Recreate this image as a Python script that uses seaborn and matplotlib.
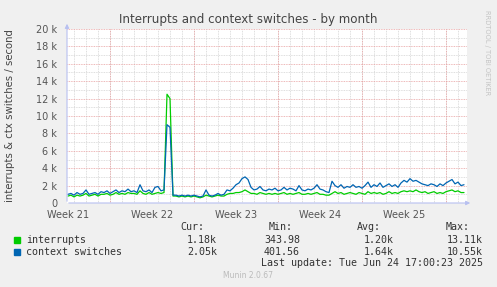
"""
Munin-style chart: interrupts and context switches - by month
"""

import numpy as np
import pandas as pd
import matplotlib
matplotlib.use('Agg')
import matplotlib.pyplot as plt
from matplotlib.patches import Rectangle
import seaborn as sns

# Dữ liệu (đơn vị: nghìn / giây), mỗi điểm cách nhau 6 giờ
start_time = '2025-05-22 12:00'
step = '6h'

interrupts = [
    0.8, 0.9, 0.7, 0.9, 0.8, 0.9, 1.1, 0.8, 0.9, 1.0, 0.8, 1.0, 1.0, 1.1, 0.9, 1.0,
    1.2, 1.0, 1.1, 1.0, 1.2, 1.1, 1.1, 1.0, 1.4, 1.1, 1.0, 1.2, 1.0, 1.1, 1.2, 1.1,
    1.2, 12.5, 12.0, 0.8,
    0.8, 0.7, 0.8, 0.7, 0.8, 0.7, 0.8, 0.7, 0.6, 0.7, 0.9, 0.8, 0.7, 0.8, 0.9, 0.8, 0.8,
    1.0, 1.1, 1.1, 1.2, 1.2, 1.3, 1.5, 1.3, 1.1,
    1.1, 1.0, 1.2, 1.1, 1.0, 1.1, 1.0, 1.1, 1.0, 1.1, 1.2, 1.0, 1.1, 1.0, 1.1, 1.2,
    1.0, 1.0, 1.1, 1.0, 1.1, 1.2, 1.0, 1.0, 0.9, 0.9,
    1.1, 1.3, 1.1, 1.2, 1.0, 1.1, 1.2, 1.1, 1.0, 1.2, 1.1, 1.0, 1.3, 1.1, 1.2, 1.1,
    1.2, 1.0, 1.1, 1.3, 1.1, 1.2, 1.1, 1.3, 1.4, 1.3, 1.4, 1.3, 1.5, 1.3, 1.2, 1.3,
    1.1, 1.2, 1.3, 1.1, 1.2, 1.1, 1.3, 1.4, 1.5, 1.3, 1.4, 1.2, 1.2,
]

context_switches = [
    1.0, 1.1, 0.9, 1.2, 1.0, 1.1, 1.5, 1.0, 1.1, 1.2, 1.0, 1.3, 1.2, 1.4, 1.1, 1.3,
    1.5, 1.2, 1.4, 1.3, 1.6, 1.3, 1.4, 1.2, 2.1, 1.4, 1.3, 1.5, 1.2, 1.8, 1.9, 1.4,
    1.5, 9.0, 8.7, 0.9,
    0.9, 0.8, 0.9, 0.8, 0.9, 0.8, 0.9, 0.8, 0.7, 0.8, 1.5, 0.9, 0.8, 0.9, 1.1, 0.9, 1.0,
    1.5, 1.4, 1.7, 2.1, 2.3, 2.8, 3.0, 2.7, 1.8,
    1.5, 1.6, 1.9, 1.5, 1.4, 1.6, 1.5, 1.7, 1.4, 1.5, 1.8, 1.5, 1.7, 1.6, 1.4, 2.0,
    1.5, 1.4, 1.6, 1.5, 1.7, 2.1, 1.6, 1.5, 1.3, 1.2,
    2.5, 2.0, 1.8, 2.1, 1.7, 1.9, 1.8, 2.1, 1.8, 1.9, 1.7, 2.0, 2.4, 1.8, 2.1, 1.9,
    2.3, 1.8, 2.0, 2.2, 1.9, 2.1, 1.8, 2.3, 2.6, 2.4, 2.8, 2.5, 2.6, 2.4, 2.2, 2.1,
    2.0, 2.2, 2.1, 1.9, 2.2, 2.0, 2.3, 2.5, 2.7, 2.2, 2.4, 2.0, 2.1,
]

series_names = ['interrupts', 'context switches']
series_colors = ['#00CC00', '#0066B3']

# Bảng thống kê ở chân biểu đồ
stat_headers = ['Cur:', 'Min:', 'Avg:', 'Max:']
stat_values = [
    ['1.18k', '343.98', '1.20k', '13.11k'],
    ['2.05k', '401.56', '1.64k', '10.55k'],
]
last_update = 'Last update: Tue Jun 24 17:00:23 2025'
munin_version = 'Munin 2.0.67'

# Trục
x_start = pd.Timestamp('2025-05-22 10:00')
x_end = pd.Timestamp('2025-06-24 18:00')
week_labels = ['Week 21', 'Week 22', 'Week 23', 'Week 24', 'Week 25']
y_ticks = list(range(0, 21, 2))

# Tạo DataFrame dạng long
times = pd.date_range(start_time, periods=len(interrupts), freq=step)
df = pd.concat([
    pd.DataFrame({'time': times, 'value': interrupts, 'series': series_names[0]}),
    pd.DataFrame({'time': times, 'value': context_switches, 'series': series_names[1]}),
])

sns.set_style('white')
plt.rcParams['font.family'] = ['DejaVu Sans']

W, H = 497, 287
fig = plt.figure(figsize=(W / 100, H / 100), dpi=100, facecolor='#F0F0F0')


def fx(px):
    return px / W


def fy(py):
    return 1 - py / H


ax = fig.add_axes([fx(67), fy(203), fx(467) - fx(67), (203 - 29) / H])
ax.set_facecolor('white')

# Lưới: phụ (xám) mỗi ngày / 1k, chính (đỏ) mỗi tuần / 2k
grid_minor = dict(color='#D4D4D4', lw=0.6, ls=(0, (1, 1)), zorder=0)
grid_major = dict(color='#E8A0A0', lw=0.6, ls=(0, (1, 1)), zorder=0)
for d in pd.date_range('2025-05-20', '2025-06-24', freq='D'):
    ax.axvline(d, **grid_minor)
for v in range(1, 21):
    ax.axhline(v, **(grid_major if v % 2 == 0 else grid_minor))
for d in pd.date_range('2025-05-26', '2025-06-24', freq='7D'):
    ax.axvline(d, **grid_major)

sns.lineplot(data=df, x='time', y='value', hue='series', hue_order=series_names,
             palette=series_colors, legend=False, linewidth=0.9, ax=ax, zorder=3)

ax.set_xlim(x_start, x_end)
ax.set_ylim(0, 20)
for s in ax.spines.values():
    s.set_visible(False)

# Nhãn tuần nằm giữa tuần (thứ Năm 12:00)
week_mid = pd.date_range('2025-05-22 12:00', periods=len(week_labels), freq='7D')
ax.set_xticks(week_mid, labels=week_labels)
ax.set_yticks(y_ticks, labels=[('0' if v == 0 else f'{v} k') for v in y_ticks])
ax.tick_params(axis='both', length=0, labelsize=7, colors='#555555')
ax.tick_params(axis='x', pad=5)
ax.tick_params(axis='y', pad=7)
ax.set_xlabel('')
ax.set_ylabel('')

# Mũi tên trục
axis_col = '#B8C0F0'
fig.add_artist(matplotlib.patches.FancyArrowPatch(
    (fx(66), fy(203)), (fx(473), fy(203)), transform=fig.transFigure,
    arrowstyle='-|>', mutation_scale=6, color=axis_col, lw=0.8))
fig.add_artist(matplotlib.patches.FancyArrowPatch(
    (fx(67), fy(204)), (fx(67), fy(21)), transform=fig.transFigure,
    arrowstyle='-|>', mutation_scale=6, color=axis_col, lw=0.8))

# Tiêu đề và nhãn
fig.text(fx(248), fy(19), 'Interrupts and context switches - by month',
         ha='center', va='center', fontsize=8.6, color='#444444')
fig.text(fx(10), fy(116), 'interrupts & ctx switches / second', rotation=90,
         ha='center', va='center', fontsize=7.3, color='#444444')
fig.text(fx(487), fy(53), 'RRDTOOL / TOBI OETIKER', rotation=270,
         ha='center', va='center', fontsize=4.8, color='#C4C4C4')

# Chú thích kiểu munin (font monospace)
mono = dict(family='DejaVu Sans Mono', fontsize=7.2, color='#333333', va='center')
header_right = [204, 293, 381, 470]
value_right = [217, 300, 394, 483]
for h, xr in zip(stat_headers, header_right):
    fig.text(fx(xr), fy(227), h, ha='right', **mono)
for row, (name, col, vals) in enumerate(zip(series_names, series_colors, stat_values)):
    yy = 240 + row * 12
    fig.add_artist(Rectangle((fx(14), fy(yy + 3)), fx(6), 6 / H,
                             transform=fig.transFigure, color=col))
    fig.text(fx(26), fy(yy), name, ha='left', **mono)
    for v, xr in zip(vals, value_right):
        fig.text(fx(xr), fy(yy), v, ha='right', **mono)
fig.text(fx(483), fy(263), last_update, ha='right', **mono)
fig.text(fx(248), fy(276), munin_version, ha='center', va='center',
         fontsize=5.5, color='#BBBBBB')

fig.savefig('out.png', dpi=100, facecolor=fig.get_facecolor())
